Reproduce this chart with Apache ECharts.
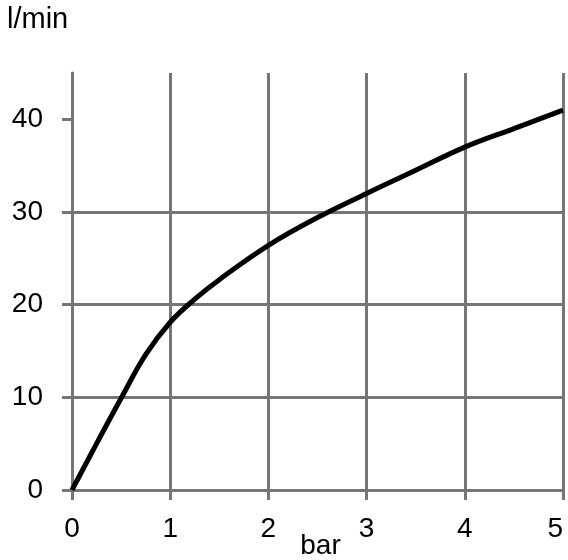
<!DOCTYPE html>
<html>
<head>
<meta charset="utf-8">
<script src="https://cdn.jsdelivr.net/npm/echarts@6/dist/echarts.min.js"></script>
<style>
  html, body { margin: 0; padding: 0; background: #fff; }
</style>
</head>
<body>
<div id="myChart" style="width: 568px; height: 560px;"></div>
<script>
  // pressure (bar) vs flow (l/min)
  const pressure = [0, 0.25, 0.5, 0.75, 1, 1.25, 1.5, 2, 2.5, 3, 3.5, 4, 4.5, 5];
  const flow = [0, 5, 9.9, 14.6, 18.1, 20.6, 22.7, 26.4, 29.4, 32, 34.5, 37, 39, 41];
  const yTicks = [0, 10, 20, 30, 40];
  const xTicks = [0, 1, 2, 3, 4, 5];

  const gridColor = '#767676';
  const font = 'Liberation Sans';

  let myChart = echarts.init(document.getElementById('myChart'));

  myChart.setOption({
    animation: false,
    title: {
      text: 'l/min',
      left: 2,
      top: 0,
      textStyle: { color: '#000', fontSize: 29, fontWeight: 'normal', fontFamily: font }
    },
    grid: { left: 72, right: 5, top: 73, bottom: 70, containLabel: false, outerBoundsMode: 'none' },
    xAxis: {
      type: 'value',
      min: 0,
      max: 5,
      interval: 1,
      name: 'bar',
      nameLocation: 'middle',
      nameGap: 42,
      nameMoveOverlap: false,
      nameTextStyle: { color: '#000', fontSize: 28, fontFamily: font, padding: [0, 0, 0, 6] },
      axisLine: { show: true, lineStyle: { color: gridColor, width: 3 } },
      axisTick: { show: true, length: 10, customValues: xTicks, lineStyle: { color: gridColor, width: 3 } },
      axisLabel: { customValues: xTicks, margin: 25, color: '#000', fontSize: 28, fontFamily: font, alignMaxLabel: 'right' },
      splitLine: { show: true, lineStyle: { color: gridColor, width: 3 } }
    },
    yAxis: {
      type: 'value',
      min: 0,
      max: 45,
      interval: 10,
      axisLine: { show: true, lineStyle: { color: gridColor, width: 3 } },
      axisTick: { show: true, length: 10, customValues: yTicks, lineStyle: { color: gridColor, width: 3 } },
      axisLabel: { customValues: yTicks, margin: 29, color: '#000', fontSize: 28, fontFamily: font },
      splitLine: { show: true, showMaxLine: false, lineStyle: { color: gridColor, width: 3 } }
    },
    series: [
      {
        type: 'line',
        data: pressure.map((p, i) => [p, flow[i]]),
        smooth: 0.4,
        showSymbol: false,
        clip: false,
        lineStyle: { color: '#000', width: 5 }
      }
    ]
  });
</script>
</body>
</html>
